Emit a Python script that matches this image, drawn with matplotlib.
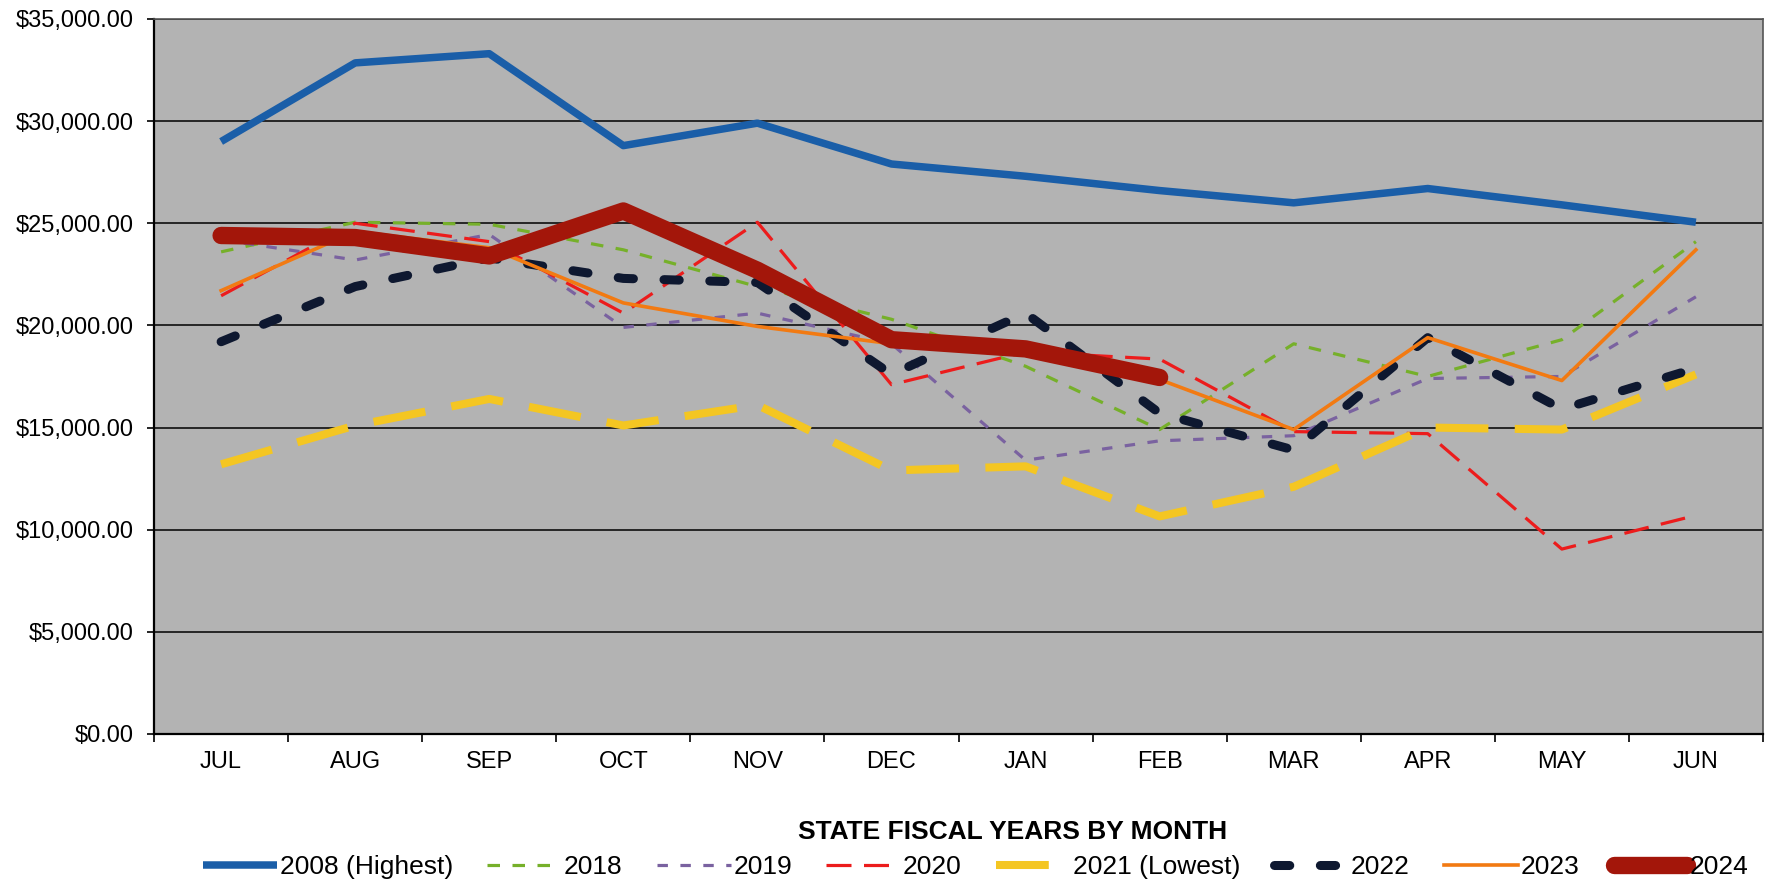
import matplotlib
matplotlib.use('Agg')
import matplotlib.pyplot as plt
from matplotlib.ticker import FuncFormatter, FixedLocator

plt.rcParams['font.family'] = ['Liberation Sans', 'DejaVu Sans']
plt.rcParams['lines.scale_dashes'] = False

months = ['JUL', 'AUG', 'SEP', 'OCT', 'NOV', 'DEC', 'JAN', 'FEB', 'MAR', 'APR', 'MAY', 'JUN']

fy2008 = [29000, 32850, 33300, 28800, 29900, 27900, 27300, 26600, 26000, 26700, 25900, 25050]
fy2018 = [23600, 25050, 24950, 23700, 21900, 20300, 18000, 14900, 19100, 17500, 19300, 24100]
fy2019 = [24200, 23200, 24450, 19900, 20600, 19100, 13400, 14350, 14600, 17400, 17500, 21400]
fy2020 = [21450, 25000, 24100, 20600, 25050, 17100, 18700, 18350, 14800, 14700, 9050, 10700]
fy2021 = [13200, 15100, 16400, 15100, 16100, 12900, 13100, 10650, 12100, 15000, 14900, 17600]
fy2022 = [19200, 21900, 23300, 22300, 22100, 17600, 20600, 15700, 13900, 19400, 15900, 17900]
fy2023 = [21700, 24600, 23800, 21100, 19950, 19100, 18700, 17350, 14900, 19400, 17300, 23700]
fy2024 = [24400, 24300, 23400, 25600, 22700, 19300, 18850, 17450]

fig = plt.figure(figsize=(17.67, 8.86), dpi=100)
ax = fig.add_axes([0.0872, 0.1716, 0.9105, 0.807])
ax.set_facecolor('#b3b3b3')

x = list(range(len(months)))

ax.plot(x, fy2008, color='#1a5ea8', lw=5.4, solid_capstyle='butt', label='2008 (Highest)', zorder=3)
ax.plot(x, fy2018, color='#76b02a', lw=2.3, dashes=(9, 9), label='2018', zorder=3)
ax.plot(x, fy2019, color='#7a62a0', lw=2.3, dashes=(7.5, 9), label='2019', zorder=3)
ax.plot(x, fy2020, color='#ec1c1c', lw=2.3, dashes=(18, 9), label='2020', zorder=3)
ax.plot(x, fy2021, color='#f4c622', lw=5.8, dashes=(38, 19), label='2021 (Lowest)', zorder=3)
ax.plot(x, fy2022, color='#0e1830', lw=6.5, dashes=(11, 22), dash_capstyle='round',
        label='2022', zorder=3)
ax.plot(x, fy2023, color='#f27a12', lw=2.6, label='2023', zorder=3)
ax.plot(x[:len(fy2024)], fy2024, color='#a3160a', lw=12.5, solid_capstyle='round',
        label='2024', zorder=4)

ax.set_xlim(-0.5, 11.5)
ax.set_ylim(0, 35000)
ax.set_yticks(range(0, 35001, 5000))
ax.yaxis.set_major_formatter(FuncFormatter(lambda v, p: '${:,.2f}'.format(v)))
ax.grid(axis='y', color='black', lw=1.1, zorder=1)
ax.set_axisbelow(True)

ax.xaxis.set_major_locator(FixedLocator([i - 0.5 for i in range(13)]))
ax.xaxis.set_minor_locator(FixedLocator(x))
ax.set_xticklabels([], minor=False)
ax.set_xticklabels(months, minor=True)
ax.tick_params(axis='x', which='major', length=6, width=1.2, color='black')
ax.tick_params(axis='x', which='minor', length=0, pad=12, labelsize=17)
ax.tick_params(axis='y', length=5, width=1.2, pad=10, labelsize=17)

for s in ['left', 'bottom']:
    ax.spines[s].set_color('black')
    ax.spines[s].set_linewidth(1.6)
for s in ['top', 'right']:
    ax.spines[s].set_color('#555555')
    ax.spines[s].set_linewidth(1.2)

fig.text(0.573, 0.061, 'STATE FISCAL YEARS BY MONTH', ha='center', va='center',
         fontsize=19, fontweight='bold')

fig.legend(loc='center', bbox_to_anchor=(0.5524, 0.021), ncol=8, frameon=False,
           fontsize=19, handlelength=2.8, handletextpad=0.1, columnspacing=1.3,
           borderaxespad=0)

fig.savefig('out.png', dpi=100, facecolor='white')
